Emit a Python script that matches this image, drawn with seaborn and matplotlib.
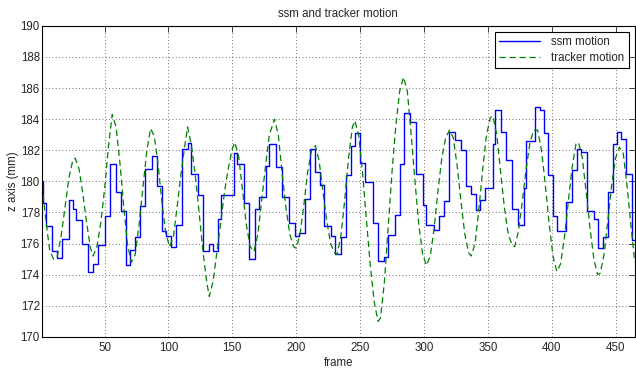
import numpy as np
import pandas as pd
import matplotlib
matplotlib.use("Agg")
import matplotlib.pyplot as plt
import seaborn as sns

# tracker motion (green dashed)
tracker_frame = [1, 4, 7, 10, 13, 16, 19, 22, 25, 27, 30, 33, 36, 39, 41, 44, 47, 50,
                 53, 56, 59, 62, 65, 68, 71, 74, 77, 80, 83, 86, 89, 92, 95, 98, 101,
                 104, 107, 110, 113, 115, 118, 121, 124, 127, 130, 132, 135, 138, 141,
                 144, 147, 150, 152, 155, 158, 161, 164, 167, 170, 173, 176, 179, 183,
                 186, 189, 192, 195, 198, 200, 203, 206, 209, 212, 215, 218, 221, 224,
                 227, 230, 232, 235, 238, 241, 244, 246, 249, 252, 255, 258, 261, 264,
                 266, 269, 272, 275, 278, 281, 284, 287, 290, 293, 296, 299, 302, 305,
                 308, 311, 314, 317, 320, 323, 326, 329, 332, 335, 337, 340, 343, 346,
                 349, 352, 354, 357, 360, 363, 366, 369, 371, 374, 377, 380, 383, 386,
                 389, 392, 395, 398, 401, 404, 407, 410, 413, 416, 419, 421, 424, 427,
                 430, 433, 436, 438, 441, 444, 447, 450, 453, 456, 459, 462, 465]
tracker_z = [179.8, 177.5, 175.6, 175.0, 175.2, 176.5, 178.3, 180.2, 181.3, 181.5,
             180.8, 179.2, 177.3, 175.7, 175.2, 175.8, 177.3, 179.5, 182.2, 184.3,
             183.5, 181.2, 178.4, 175.9, 174.8, 175.3, 177.2, 179.6, 181.9, 183.4,
             182.9, 181.0, 178.6, 176.6, 175.8, 176.5, 178.5, 180.6, 182.4, 183.5,
             182.3, 180.4, 178.0, 175.5, 173.5, 172.6, 173.6, 175.5, 177.4, 179.4,
             180.9, 182.1, 182.5, 181.6, 179.4, 177.2, 175.8, 175.5, 176.6, 178.8,
             181.0, 183.0, 184.0, 183.0, 180.5, 178.3, 176.6, 175.8, 175.7, 176.6,
             178.5, 180.6, 182.0, 182.3, 181.3, 179.3, 177.4, 176.0, 175.4, 175.3,
             176.5, 178.8, 181.5, 183.5, 183.9, 182.9, 180.5, 177.5, 174.6, 172.3,
             171.0, 171.2, 173.5, 177.0, 180.6, 183.6, 185.8, 186.7, 185.8, 183.0,
             180.0, 177.2, 175.3, 174.6, 175.2, 177.0, 179.4, 181.5, 182.8, 183.3,
             182.8, 181.0, 178.7, 176.6, 175.4, 175.2, 176.0, 178.2, 180.8, 183.0,
             184.1, 184.2, 183.0, 180.6, 178.3, 176.6, 175.9, 175.8, 176.8, 178.7,
             180.8, 182.5, 183.3, 183.3, 182.0, 179.8, 177.3, 175.2, 174.2, 174.7,
             176.4, 178.7, 180.9, 182.4, 182.5, 181.5, 179.3, 177.0, 175.0, 174.0,
             174.1, 175.3, 177.5, 179.8, 181.5, 182.2, 181.8, 179.7, 177.2, 174.8]

# ssm motion (blue steps): frame where each level starts, and the level
ssm_frame = [1, 2, 4, 9, 13, 17, 22, 25, 28, 32, 37, 41, 45, 50, 54, 59, 63, 67, 70,
             74, 78, 82, 87, 91, 95, 98, 102, 106, 111, 115, 118, 123, 127, 132, 135,
             139, 141, 151, 154, 159, 163, 168, 171, 176, 179, 184, 189, 194, 199,
             202, 207, 211, 215, 219, 222, 227, 230, 235, 239, 243, 246, 250, 254,
             260, 264, 269, 272, 277, 281, 284, 289, 294, 299, 302, 308, 312, 316,
             320, 324, 329, 333, 337, 341, 344, 348, 354, 356, 360, 364, 369, 374,
             378, 380, 387, 391, 394, 397, 401, 404, 411, 416, 420, 423, 428, 433,
             436, 440, 444, 448, 451, 454, 458, 463, 465]
ssm_z = [180.0, 178.6, 177.1, 175.5, 175.1, 176.3, 178.8, 178.2, 177.5, 176.0, 174.2,
         174.7, 175.9, 177.8, 181.1, 179.3, 178.1, 174.6, 175.6, 176.4, 178.4, 180.8,
         181.6, 179.7, 176.8, 176.5, 175.8, 177.2, 182.1, 182.45, 180.5, 179.1, 175.5,
         176.0, 175.5, 177.6, 179.1, 181.8, 181.1, 178.6, 175.0, 178.2, 179.0, 181.0,
         182.4, 180.9, 179.0, 177.35, 176.5, 176.65, 178.85, 182.1, 180.6, 179.75,
         177.1, 176.5, 175.3, 176.4, 180.4, 182.3, 183.1, 181.2, 179.95, 177.3, 174.9,
         175.15, 176.55, 177.85, 181.1, 184.4, 183.8, 180.5, 178.5, 177.2, 176.85,
         177.8, 178.75, 183.2, 182.65, 182.0, 179.7, 179.2, 178.15, 178.8, 179.6,
         182.4, 184.6, 183.15, 181.4, 178.2, 177.2, 179.6, 182.6, 184.8, 184.6, 183.1,
         180.4, 177.8, 176.8, 178.7, 180.7, 182.1, 181.9, 178.1, 177.6, 175.7, 176.4,
         179.3, 182.4, 183.2, 182.7, 180.5, 176.2, 176.2]

x_ticks = [50, 100, 150, 200, 250, 300, 350, 400, 450]
y_ticks = list(range(170, 191, 2))

sns.set_style("white")
plt.rcParams["font.family"] = ["Liberation Sans", "DejaVu Sans"]
fs = 8.3

ssm = pd.DataFrame({"frame": ssm_frame, "z": ssm_z})
tracker = pd.DataFrame({"frame": tracker_frame, "z": tracker_z})

fig = plt.figure(figsize=(6.36, 3.69), dpi=100)
ax = fig.add_axes([0.066, 0.087, 0.932, 0.843])

sns.lineplot(data=ssm, x="frame", y="z", ax=ax, color=(0, 0, 1), lw=1.0,
             drawstyle="steps-post", label="ssm motion", estimator=None)
sns.lineplot(data=tracker, x="frame", y="z", ax=ax, color=(0, 0.5, 0), lw=0.9,
             linestyle=(0, (5, 3)), label="tracker motion", estimator=None)

ax.set_xlim(1, 465)
ax.set_ylim(170, 190)
ax.set_xticks(x_ticks)
ax.set_yticks(y_ticks)
ax.grid(True, color="0.25", linestyle=(0, (1, 3)), lw=0.6)
ax.tick_params(direction="in", length=4, width=0.6, top=True, right=True,
               labelsize=fs)
ax.tick_params(axis="x", pad=4)
ax.tick_params(axis="y", pad=1.5)
for s in ax.spines.values():
    s.set_visible(True)
    s.set_color("black")
    s.set_linewidth(0.8)

ax.set_title("ssm and tracker motion", fontsize=fs, pad=6.5)
ax.set_xlabel("frame", fontsize=fs, labelpad=1.5)
ax.set_ylabel("z axis (mm)", fontsize=fs, labelpad=1)

leg = ax.legend(loc="upper right", fancybox=False, framealpha=1, edgecolor="black",
                fontsize=fs, handlelength=3.5, handletextpad=1.0,
                borderaxespad=0.5, borderpad=0.4, labelspacing=0.3)
leg.get_frame().set_linewidth(0.8)

fig.savefig("out.png", dpi=100)
